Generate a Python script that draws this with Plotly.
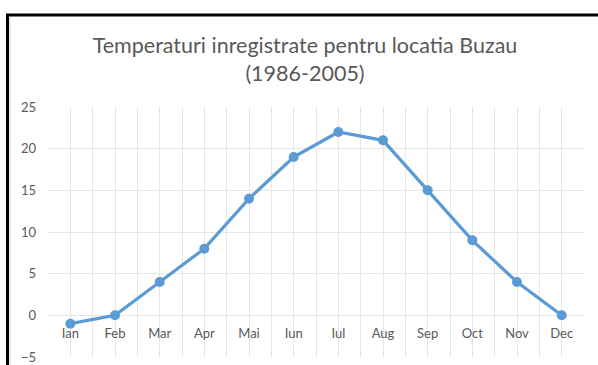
import plotly.graph_objects as go

# Monthly mean temperatures, Buzau (1986-2005)
months = ["Ian", "Feb", "Mar", "Apr", "Mai", "Iun", "Iul", "Aug", "Sep", "Oct", "Nov", "Dec"]
temperatures = [-1, 0, 4, 8, 14, 19, 22, 21, 15, 9, 4, 0]
y_ticks = [-5, 0, 5, 10, 15, 20, 25]

W, H = 598, 365
ML, MR, MT, MB = 48, 14, 107, 8
PW, PH = W - ML - MR, H - MT - MB

BLUE = "#5B9BD5"
GRID = "#e6e6e6"
TEXT = "#595959"
FONT = "Lato"

idx = list(range(len(months)))

fig = go.Figure()
fig.add_trace(go.Scatter(
    x=idx, y=temperatures, mode="lines+markers",
    line=dict(color=BLUE, width=3.2),
    marker=dict(color=BLUE, size=10),
    hoverinfo="skip", showlegend=False,
))

def px_x(p):
    return (p - ML) / PW

def px_y(p):
    return (H - MB - p) / PH

fig.update_layout(
    width=W, height=H,
    margin=dict(l=ML, r=MR, t=MT, b=MB, autoexpand=False),
    paper_bgcolor="white", plot_bgcolor="white",
    font=dict(family=FONT, color=TEXT, size=13),
    title=dict(
        text="Temperaturi inregistrate pentru locatia Buzau<br>(1986-2005)",
        x=305 / W, xanchor="center", xref="container",
        y=1 - 53 / H, yanchor="top", yref="container",
        font=dict(family=FONT, size=21.5, color=TEXT),
    ),
    xaxis=dict(
        range=[-0.5, len(months) - 0.5],
        tickmode="array", tickvals=idx, ticktext=months,
        showgrid=True, gridcolor=GRID, gridwidth=1,
        minor=dict(dtick=0.5, tick0=-0.5, showgrid=True, gridcolor=GRID, gridwidth=1),
        zeroline=False, showline=False, ticks="",
        anchor="free", position=(0 - y_ticks[0]) / (y_ticks[-1] - y_ticks[0]),
        ticklabelstandoff=9, automargin=False,
        tickfont=dict(size=13, color=TEXT),
        fixedrange=True,
    ),
    yaxis=dict(
        range=[y_ticks[0], y_ticks[-1]],
        tickmode="array", tickvals=y_ticks,
        showgrid=True, gridcolor=GRID, gridwidth=1,
        zeroline=False, showline=False, ticks="",
        ticklabelstandoff=11, automargin=False,
        tickfont=dict(size=13, color=TEXT),
        fixedrange=True,
    ),
    shapes=[
        # outer frame: left and top edges
        dict(type="line", xref="paper", yref="paper",
             x0=px_x(7.5), x1=px_x(7.5), y0=px_y(15), y1=px_y(H + 5),
             line=dict(color="black", width=3)),
        dict(type="line", xref="paper", yref="paper",
             x0=px_x(6), x1=px_x(W + 5), y0=px_y(15), y1=px_y(15),
             line=dict(color="black", width=3)),
        # light chart-area border just inside
        dict(type="line", xref="paper", yref="paper",
             x0=px_x(10), x1=px_x(10), y0=px_y(17), y1=px_y(H + 5),
             line=dict(color="#d9d9d9", width=1)),
    ],
)

fig.write_html("out.html")
